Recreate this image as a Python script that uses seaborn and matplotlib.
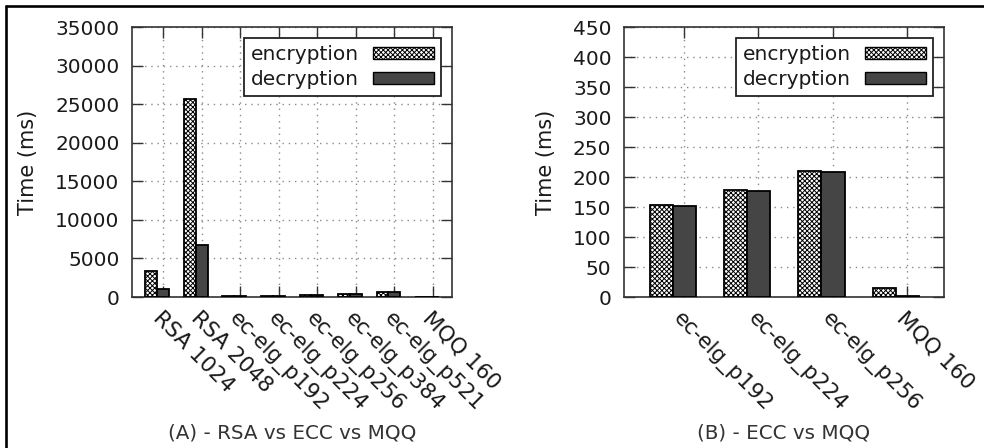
import numpy as np
import pandas as pd
import matplotlib
matplotlib.use("Agg")
import matplotlib.pyplot as plt
from matplotlib.patches import Patch
from matplotlib.lines import Line2D
import seaborn as sns

# Panel A: all schemes
schemes_all = ["RSA 1024", "RSA 2048", "ec-elg_p192", "ec-elg_p224",
               "ec-elg_p256", "ec-elg_p384", "ec-elg_p521", "MQQ 160"]
enc_all = [3350, 25650, 154, 179, 210, 450, 680, 15.7]
dec_all = [1000, 6800, 151, 177, 208, 430, 660, 2]

# Panel B: ECC vs MQQ only
schemes_ecc = ["ec-elg_p192", "ec-elg_p224", "ec-elg_p256", "MQQ 160"]
enc_ecc = [154, 179, 210, 15.7]
dec_ecc = [151, 177, 208, 2]

operations = ["encryption", "decryption"]
subtitles = ["(A) - RSA vs ECC vs MQQ", "(B) - ECC vs MQQ"]

sns.set_theme(style="ticks")
plt.rcParams['font.family'] = ['DejaVu Sans']
plt.rcParams['hatch.linewidth'] = 0.7
plt.rcParams['hatch.color'] = 'black'

W, H = 984, 448
fig = plt.figure(figsize=(W / 100, H / 100), dpi=100)
fig.patch.set_facecolor("white")

DEC_COLOR = "#454545"
HATCH = "xxxxxxx"
TEXT = "#1a1a1a"


def draw_panel(ax, cats, enc, dec, ymax, ystep, subtitle):
    n = len(cats)
    df = pd.DataFrame({
        "scheme": cats * 2,
        "operation": [operations[0]] * n + [operations[1]] * n,
        "time": list(enc) + list(dec),
    })
    sns.barplot(data=df, x="scheme", y="time", hue="operation",
                order=cats, hue_order=operations,
                palette=["white", DEC_COLOR], saturation=1,
                width=0.62, edgecolor="black", linewidth=1.3,
                legend=False, ax=ax, zorder=3, errorbar=None)
    for bar in ax.containers[0]:
        bar.set_hatch(HATCH)

    ax.set_xlim(-0.66, n - 1 + 0.65)
    ax.set_ylim(0, ymax)
    ax.set_yticks(np.arange(0, ymax + 1, ystep))
    ax.set_xticks(np.arange(n) + 0.15)
    ax.set_xticklabels(cats, rotation=-45, ha="left", va="top",
                       rotation_mode="anchor", fontsize=15.5, color=TEXT)
    ax.tick_params(axis="both", direction="in", length=8, width=1.0,
                   top=True, right=True, labelcolor=TEXT, color="#333333")
    ax.tick_params(axis="y", labelsize=14.5, pad=9)
    ax.tick_params(axis="x", pad=8)
    ax.set_xlabel("")
    ax.set_ylabel("Time (ms)", fontsize=15, color=TEXT, labelpad=12)

    ax.set_axisbelow(True)
    ax.grid(True, linestyle=(0, (1, 3.5)), color="#8a8a8a", linewidth=1.0)
    for sp in ax.spines.values():
        sp.set_color("#333333")
        sp.set_linewidth(1.2)
        sp.set_visible(True)

    handles = [
        Patch(facecolor="white", edgecolor="black", hatch=HATCH, label=operations[0]),
        Patch(facecolor=DEC_COLOR, edgecolor="black", label=operations[1]),
    ]
    leg = ax.legend(handles=handles, loc="upper right", markerfirst=False,
                    frameon=True, fancybox=False, edgecolor="#222222",
                    framealpha=1, fontsize=14.5, handlelength=3.0,
                    handleheight=0.6, borderaxespad=0.55, labelspacing=0.3,
                    borderpad=0.35, handletextpad=0.7)
    leg.get_frame().set_linewidth(1.3)
    for t in leg.get_texts():
        t.set_color(TEXT)

    pos = ax.get_position()
    fig.text((pos.x0 + pos.x1) / 2, 1 - 433 / H, subtitle, ha="center",
             va="center", fontsize=14.3, color="#333333")


axA = fig.add_axes([132 / W, 1 - 297 / H, 320 / W, 270 / H])
axB = fig.add_axes([624 / W, 1 - 297 / H, 320 / W, 270 / H])

draw_panel(axA, schemes_all, enc_all, dec_all, 35000, 5000, subtitles[0])
draw_panel(axB, schemes_ecc, enc_ecc, dec_ecc, 450, 50, subtitles[1])

# Outer frame lines along the top and left edges
fig.add_artist(Line2D([6 / W, 1.0], [1 - 6 / H, 1 - 6 / H],
                      transform=fig.transFigure, color="black", lw=1.9))
fig.add_artist(Line2D([6 / W, 6 / W], [0.0, 1 - 6 / H],
                      transform=fig.transFigure, color="black", lw=1.9))

fig.savefig("out.png", dpi=100)
